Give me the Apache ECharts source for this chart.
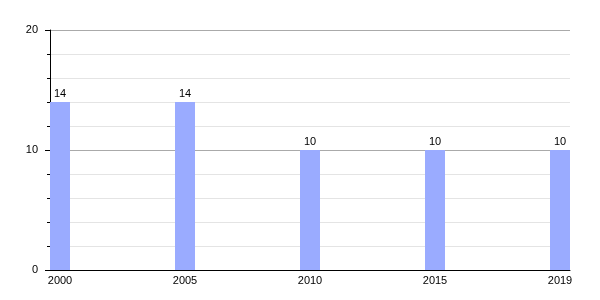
<!DOCTYPE html>
<html><head><meta charset="utf-8">
<script src="https://cdn.jsdelivr.net/npm/echarts@6/dist/echarts.min.js"></script>
<style>html,body{margin:0;padding:0;background:#fff}#c{width:600px;height:300px}</style>
</head><body><div id="c"></div>
<script>
const years = ['2000', '2005', '2010', '2015', '2019'];
const values = [14, 14, 10, 10, 10];
const yTicks = [0, 10, 20];

const chart = echarts.init(document.getElementById('c'), null, {renderer: 'canvas'});
const idx = years.map((_, i) => i);
chart.setOption({
  animation: false,
  textStyle: {fontFamily: 'Liberation Sans'},
  grid: {left: 50, right: 30, top: 30, bottom: 30, containLabel: false},
  xAxis: {
    type: 'value', min: -0.08, max: years.length - 1 + 0.08,
    axisLine: {show: true, onZero: false, lineStyle: {color: '#000', width: 1}},
    axisTick: {show: false},
    splitLine: {show: false},
    axisLabel: {
      show: true, customValues: idx, margin: 5,
      color: '#000', fontSize: 11, fontFamily: 'Liberation Sans',
      formatter: v => years[Math.round(v)] || ''
    }
  },
  yAxis: {
    type: 'value', min: yTicks[0], max: yTicks[yTicks.length - 1], interval: 10,
    axisLine: {show: true, onZero: false, lineStyle: {color: '#000', width: 1}},
    axisTick: {show: true, length: 5, lineStyle: {color: '#000'}},
    minorTick: {show: true, splitNumber: 5, length: 3, lineStyle: {color: '#000'}},
    splitLine: {show: true, lineStyle: {color: '#aaaaaa', width: 1}},
    minorSplitLine: {show: true, lineStyle: {color: '#e4e4e4', width: 1}},
    axisLabel: {color: '#000', fontSize: 11, margin: 12, padding: [4, 0, 0, 0], fontFamily: 'Liberation Sans'}
  },
  series: [{
    type: 'bar',
    barWidth: 20,
    data: values.map((v, i) => [i, v]),
    itemStyle: {color: '#9aabff'},
    label: {show: true, position: 'top', distance: 3, color: '#000', fontSize: 11,
            fontFamily: 'Liberation Sans', formatter: p => p.value[1]}
  }]
});
</script></body></html>
